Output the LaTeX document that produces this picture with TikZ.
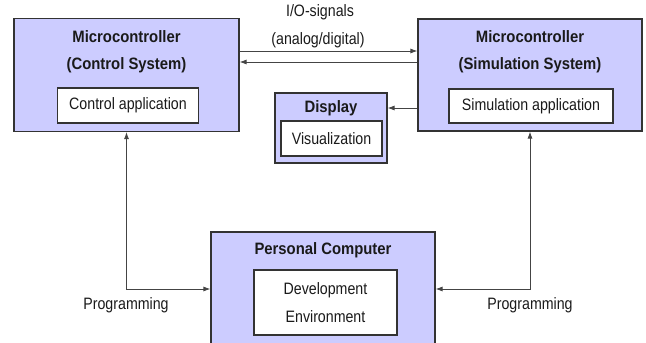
\documentclass[tikz,border=0pt]{standalone}
\usepackage{fontspec}
\setmainfont{Liberation Sans}[FakeStretch=0.86,BoldFeatures={FakeStretch=0.9}]
\usetikzlibrary{arrows.meta}
\definecolor{boxfill}{HTML}{CCCCFF}
\definecolor{edge}{HTML}{333333}
\definecolor{conn}{HTML}{444444}
\definecolor{txt}{HTML}{1A1A1A}
\tikzset{
  outer/.style={draw=edge,fill=boxfill,line width=1.1pt,inner sep=0pt},
  inner/.style={draw=edge,fill=white,line width=1.1pt,inner sep=0pt,align=center,text=txt,font=\fontsize{16.5}{28}\selectfont},
  ttl/.style={inner sep=0pt,text=txt,font=\fontsize{16.5}{20}\selectfont\bfseries},
  lbl/.style={inner sep=0pt,text=txt,font=\fontsize{16.5}{20}\selectfont},
  conline/.style={draw=conn,line width=0.9pt,-{Latex[length=7pt,width=5pt]}},
  biline/.style={draw=conn,line width=0.9pt,{Latex[length=7pt,width=5pt]}-{Latex[length=7pt,width=5pt]}}
}
\begin{document}
\begin{tikzpicture}[x=1pt,y=-1pt]
\useasboundingbox (0,0) rectangle (646,343);
% Left microcontroller
\node[outer,minimum width=225pt,minimum height=113pt] (cs) at (126.5,75) {};
\node[ttl] (cst1) at (126.5,37) {Microcontroller};
\node[ttl] (cst2) at (126.5,65) {(Control System)};
\node[inner,minimum width=141pt,minimum height=35pt] (ca) at (128,105.5) {Control application};
% Right microcontroller
\node[outer,minimum width=224pt,minimum height=112pt] (ss) at (530,75) {};
\node[ttl] (sst1) at (530,37) {Microcontroller};
\node[ttl] (sst2) at (530,65) {(Simulation System)};
\node[inner,minimum width=164pt,minimum height=34pt] (sa) at (531,106) {Simulation application};
% Display
\node[outer,minimum width=112pt,minimum height=70pt] (disp) at (331,128) {};
\node[ttl] (dt) at (331,108) {Display};
\node[inner,minimum width=101pt,minimum height=35pt] (vis) at (331.5,138.5) {Visualization};
% Personal computer
\node[outer,minimum width=224pt,minimum height=114pt] (pc) at (323,289) {};
\node[ttl] (pct) at (323,250) {Personal Computer};
\node[inner,minimum width=143pt,minimum height=65pt] (dev) at (325.5,302.5) {Development\\Environment};
% I/O arrows
\draw[conline] ([yshift=24pt]cs.east) -- ([yshift=24pt]ss.west);
\draw[conline] ([yshift=13pt]ss.west) -- ([yshift=13pt]cs.east);
\node[lbl] (io1) at (320,12) {I/O-signals};
\node[lbl] (io2) at (318,40) {(analog/digital)};
% Display arrow
\draw[conline] (ss.west |- dt) -- (disp.east |- dt);
% Programming
\draw[biline] (cs.south) |- (pc.west);
\draw[biline] (ss.south) |- (pc.east);
\node[lbl] (pl) at (126,305) {Programming};
\node[lbl] (pr) at (530,305) {Programming};
\end{tikzpicture}
\end{document}
